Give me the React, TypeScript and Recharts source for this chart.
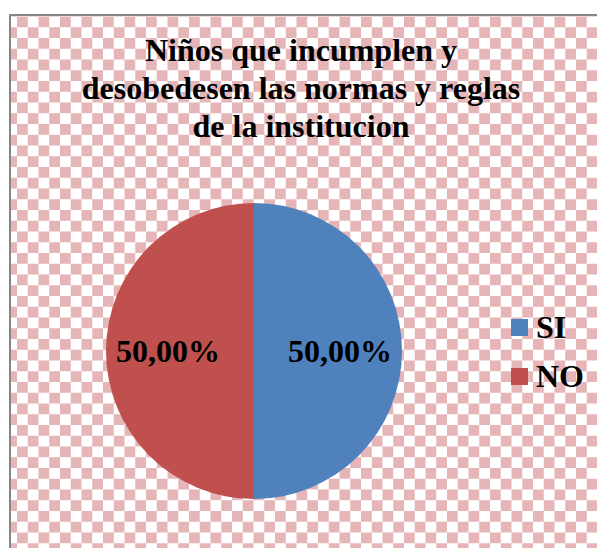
import { PieChart, Pie, Cell } from "recharts";

const categories = ["SI", "NO"];
const values = [50, 50];
const labels = ["50,00%", "50,00%"];
const COLORS = ["#4f81bd", "#c0504d"];

const titleLines = ["Niños que incumplen y", "desobedesen las normas y reglas", "de la institucion"];

const FONT = '"Liberation Serif", "Times New Roman", serif';

const RADIAN = Math.PI / 180;
const renderLabel = ({ cx, cy, midAngle, index }: any) => {
  const r = 86;
  const x = cx + r * Math.cos(-midAngle * RADIAN);
  const y = cy + r * Math.sin(-midAngle * RADIAN);
  return (
    <text x={x} y={y} textAnchor="middle" dominantBaseline="central" fontSize={32} fontWeight="bold" fontFamily={FONT} fill="#000">
      {labels[index]}
    </text>
  );
};

export default function App() {
  const data = categories.map((c, i) => ({ name: c, value: values[i] }));

  return (
    <div style={{ position: "absolute", left: 0, top: 0, width: 597, height: 548, overflow: "hidden", background: "#fff" }}>
      {/* fondo a cuadros */}
      <div
        style={{
          position: "absolute",
          left: 9,
          top: 14,
          width: 600,
          height: 540,
          borderLeft: "2px solid #868686",
          borderTop: "2px solid #868686",
          backgroundImage: "conic-gradient(#fff 25%, #e5b5b7 0 50%, #fff 0 75%, #e5b5b7 0)",
          backgroundSize: "21.5px 21.5px",
          backgroundPosition: "6px 0.5px",
        }}
      />
      <div style={{ position: "absolute", left: 0, top: 31, width: 602, textAlign: "center", fontFamily: FONT, fontWeight: "bold", fontSize: 32, lineHeight: "38px" }}>
        {titleLines.map((t) => (
          <div key={t}>{t}</div>
        ))}
      </div>
      <div style={{ position: "absolute", left: 0, top: 0 }}>
        <PieChart width={597} height={548} margin={{ top: 0, right: 0, bottom: 0, left: 0 }}>
          <Pie
            data={data}
            cx={254}
            cy={351}
            outerRadius={148}
            startAngle={90}
            endAngle={-270}
            dataKey="value"
            stroke="none"
            label={renderLabel}
            labelLine={false}
            isAnimationActive={false}
          >
            {data.map((_, i) => (
              <Cell key={`c-${i}`} fill={COLORS[i]} />
            ))}
          </Pie>
        </PieChart>
      </div>
      {/* leyenda */}
      <div style={{ position: "absolute", left: 511, top: 303, fontFamily: FONT, fontWeight: "bold", fontSize: 32 }}>
        {categories.map((c, i) => (
          <div key={c} style={{ display: "flex", alignItems: "center", height: 49 }}>
            <div style={{ width: 17, height: 17, background: COLORS[i], marginRight: 8 }} />
            <span>{c}</span>
          </div>
        ))}
      </div>
    </div>
  );
}
